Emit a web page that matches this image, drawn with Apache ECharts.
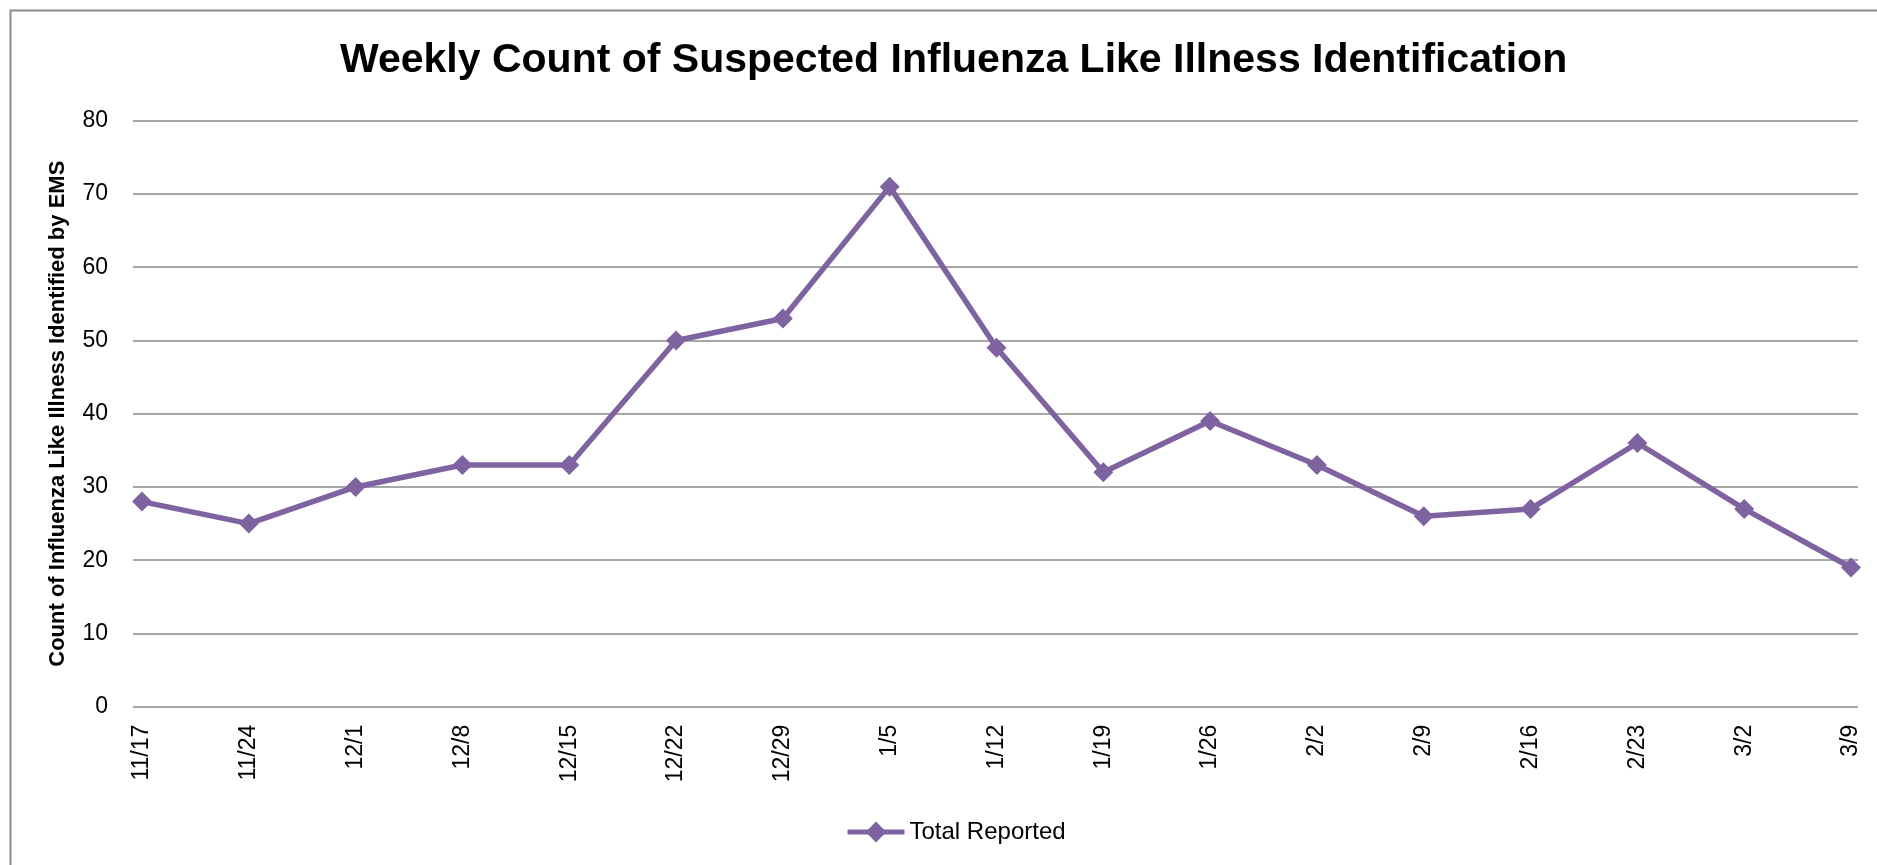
<!DOCTYPE html>
<html>
<head>
    <meta charset="utf-8">
    <title>Weekly Count of Suspected Influenza Like Illness Identification</title>
    <script src="https://cdn.jsdelivr.net/npm/echarts@6/dist/echarts.min.js"></script>
    <style>
        html, body { height: 100%; margin: 0; background: #fff; }
        #container { width: 1877px; height: 865px; }
    </style>
</head>
<body>
<div id="container"></div>

<script type="text/javascript">
    // week start dates
    var weeks = ['11/17', '11/24', '12/1', '12/8', '12/15', '12/22', '12/29', '1/5', '1/12',
                 '1/19', '1/26', '2/2', '2/9', '2/16', '2/23', '3/2', '3/9'];
    // suspected ILI counts identified by EMS
    var totalReported = [28, 25, 30, 33, 33, 50, 53, 71, 49, 32, 39, 33, 26, 27, 36, 27, 19];
    var yTicks = { min: 0, max: 80, interval: 10 };

    var font = 'Liberation Sans, Arial, sans-serif';
    var purple = '#7f63a1';

    var dom = document.getElementById("container");
    var myChart = echarts.init(dom);

    var option = {
        backgroundColor: '#fff',
        animation: false,
        title: {
            text: 'Weekly Count of Suspected Influenza Like Illness Identification',
            left: 335,
            top: 35,
            textStyle: { fontFamily: font, fontSize: 41, fontWeight: 'bold', color: '#000' }
        },
        legend: {
            left: 840,
            top: 815,
            itemWidth: 57,
            itemHeight: 26,
            lineStyle: { width: 5 },
            textStyle: { fontFamily: font, fontSize: 24, color: '#000' },
            data: ['Total Reported']
        },
        // chart area frame
        graphic: [{
            type: 'rect',
            left: 8, top: 8,
            shape: { width: 2000, height: 2000 },
            style: { fill: 'none', stroke: '#8a8a8a', lineWidth: 2 },
            silent: true
        }],
        grid: [
            // plot area: gridlines and value labels
            { left: 133, right: 19, top: 120.7, bottom: 158.3 },
            // data points sit a little inside the gridlines
            { left: 142, right: 26, top: 120.7, bottom: 158.3 }
        ],
        xAxis: [
            { gridIndex: 0, type: 'category', data: weeks, show: false },
            {
                gridIndex: 1,
                type: 'category',
                data: weeks,
                boundaryGap: false,
                axisLine: { show: false },
                axisTick: { show: false },
                axisLabel: {
                    interval: 0, rotate: 90, margin: 18,
                    fontFamily: font, fontSize: 23, color: '#000'
                }
            }
        ],
        yAxis: [
            {
                gridIndex: 0,
                type: 'value',
                min: yTicks.min, max: yTicks.max, interval: yTicks.interval,
                name: 'Count of Influenza Like Illness Identified by EMS',
                nameLocation: 'middle',
                nameGap: 64,
                nameTextStyle: { fontFamily: font, fontSize: 22, fontWeight: 'bold', color: '#000' },
                axisLine: { show: false },
                axisTick: { show: false },
                axisLabel: { margin: 25, fontFamily: font, fontSize: 23, color: '#000' },
                splitLine: { lineStyle: { color: '#8a8a8a', width: 1.5 } }
            },
            {
                gridIndex: 1,
                type: 'value',
                min: yTicks.min, max: yTicks.max, interval: yTicks.interval,
                show: false,
                splitLine: { show: false }
            }
        ],
        series: [{
            name: 'Total Reported',
            type: 'line',
            xAxisIndex: 1,
            yAxisIndex: 1,
            data: totalReported,
            symbol: 'diamond',
            symbolSize: 20,
            showAllSymbol: true,
            lineStyle: { color: purple, width: 5.5 },
            itemStyle: { color: purple }
        }]
    };

    myChart.setOption(option, true);
</script>
</body>
</html>
